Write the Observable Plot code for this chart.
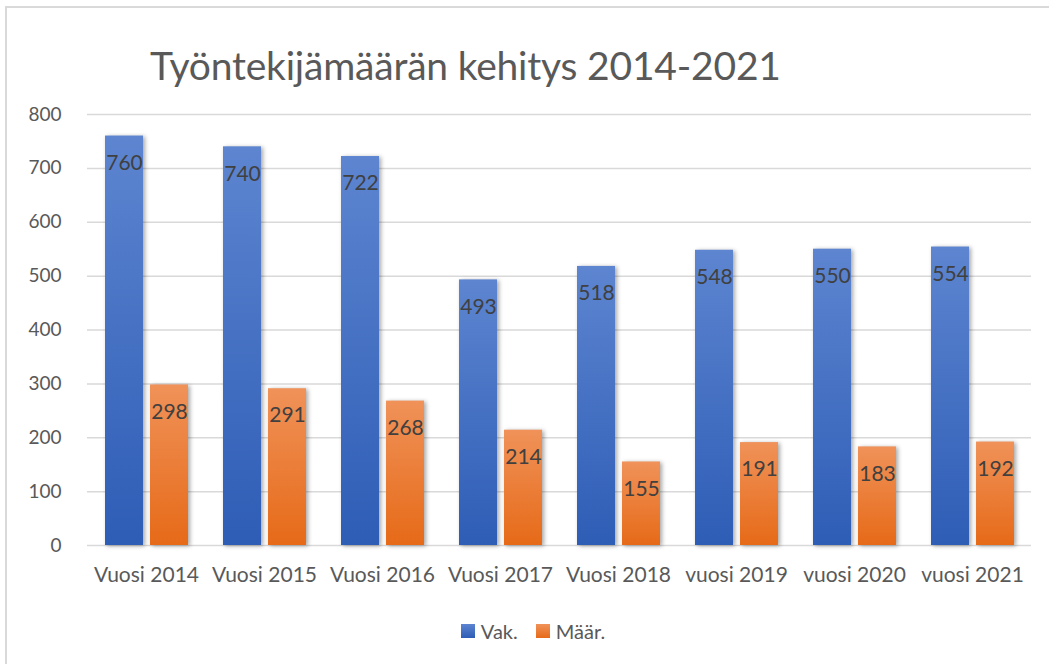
<!DOCTYPE html>
<html>
<head>
<meta charset="utf-8">
<script src="https://cdn.jsdelivr.net/npm/d3@7"></script>
<script src="https://cdn.jsdelivr.net/npm/@observablehq/plot@0.6"></script>
<style>
  html, body { margin: 0; padding: 0; background: #fff; }
  #wrap { position: relative; width: 1050px; height: 664px; overflow: hidden; font-family: Lato, "Open Sans", sans-serif; }
  #frame { position: absolute; left: 5px; top: 6px; width: 1044px; height: 720px; border-left: 2px solid #d9d9d9; border-top: 2px solid #d9d9d9; box-sizing: border-box; }
  #title { position: absolute; left: 150px; top: 42px; font-size: 39px; color: #595959; white-space: nowrap; letter-spacing: -0.2px; }
  #chart { position: absolute; left: 0; top: 95px; }
  #legend { position: absolute; top: 618px; left: 8px; width: 1050px; text-align: center; font-size: 20px; color: #595959; }
  #legend span.item { display: inline-flex; align-items: center; margin: 0 9px; }
  #legend span.sw { display: inline-block; width: 14px; height: 14px; margin-right: 6px; }
  g[aria-label="bar"] rect { filter: drop-shadow(2px 1px 2px rgba(0,0,0,0.35)); }
</style>
</head>
<body>
<div id="wrap">
  <div id="frame"></div>
  <div id="title">Työntekijämäärän kehitys 2014-2021</div>
  <div id="chart"></div>
  <div id="legend"></div>
</div>
<script>
const years = ["Vuosi 2014","Vuosi 2015","Vuosi 2016","Vuosi 2017","Vuosi 2018","vuosi 2019","vuosi 2020","vuosi 2021"];
const seriesNames = ["Vak.","Määr."];
const vak = [760,740,722,493,518,548,550,554];
const maar = [298,291,268,214,155,191,183,192];
const yTicks = [0,100,200,300,400,500,600,700,800];

const data = years.flatMap((y, i) => [
  {year: y, series: seriesNames[0], value: vak[i]},
  {year: y, series: seriesNames[1], value: maar[i]}
]);

const chart = Plot.plot({
  width: 1050,
  height: 500,
  marginLeft: 85,
  marginRight: 17,
  marginTop: 19,
  marginBottom: 50,
  style: {fontFamily: "Lato, 'Open Sans', sans-serif", color: "#595959", background: "transparent"},
  fx: {domain: years, paddingInner: 0, paddingOuter: 0, label: null, axis: null},
  x: {domain: seriesNames, paddingInner: 0.156, paddingOuter: 0.37, axis: null},
  y: {domain: [0, 800], label: null, axis: null},
  color: {domain: seriesNames, range: ["url(#gBlue)", "url(#gOrange)"]},
  marks: [
    Plot.ruleY(yTicks, {stroke: "#d9d9d9", strokeWidth: 1.5}),
    Plot.axisY({ticks: yTicks, tickSize: 0, tickPadding: 26, fontSize: 19, label: null, fill: "#595959"}),
    Plot.axisFx({anchor: "bottom", tickSize: 0, tickPadding: 3, dy: 19, fontSize: 21, label: null, fill: "#595959"}),
    Plot.barY(data, {fx: "year", x: "series", y: "value", fill: "series"}),
    Plot.text(data, {fx: "year", x: "series", y: "value", text: d => String(d.value), dy: 27, fontSize: 21, fill: "#404040", lineAnchor: "middle"})
  ]
});

// gradients
const ns = "http://www.w3.org/2000/svg";
const defs = document.createElementNS(ns, "defs");
function grad(id, top, bottom) {
  const g = document.createElementNS(ns, "linearGradient");
  g.setAttribute("id", id);
  g.setAttribute("x1", "0"); g.setAttribute("y1", "0");
  g.setAttribute("x2", "0"); g.setAttribute("y2", "1");
  [[0, top], [1, bottom]].forEach(([o, c]) => {
    const s = document.createElementNS(ns, "stop");
    s.setAttribute("offset", o);
    s.setAttribute("stop-color", c);
    g.appendChild(s);
  });
  defs.appendChild(g);
}
grad("gBlue", "#5d85d0", "#2e5db6");
grad("gOrange", "#f09259", "#e66a18");
chart.insertBefore(defs, chart.firstChild);
document.getElementById("chart").appendChild(chart);

// legend
const legend = document.getElementById("legend");
[["Vak.", "#4472c4"], ["Määr.", "#ed7d31"]].forEach(([name, c], i) => {
  const item = document.createElement("span");
  item.className = "item";
  const sw = document.createElement("span");
  sw.className = "sw";
  sw.style.background = i === 0 ? "linear-gradient(#5d85d0,#2e5db6)" : "linear-gradient(#f09259,#e66a18)";
  item.appendChild(sw);
  item.appendChild(document.createTextNode(name));
  legend.appendChild(item);
});
</script>
</body>
</html>
